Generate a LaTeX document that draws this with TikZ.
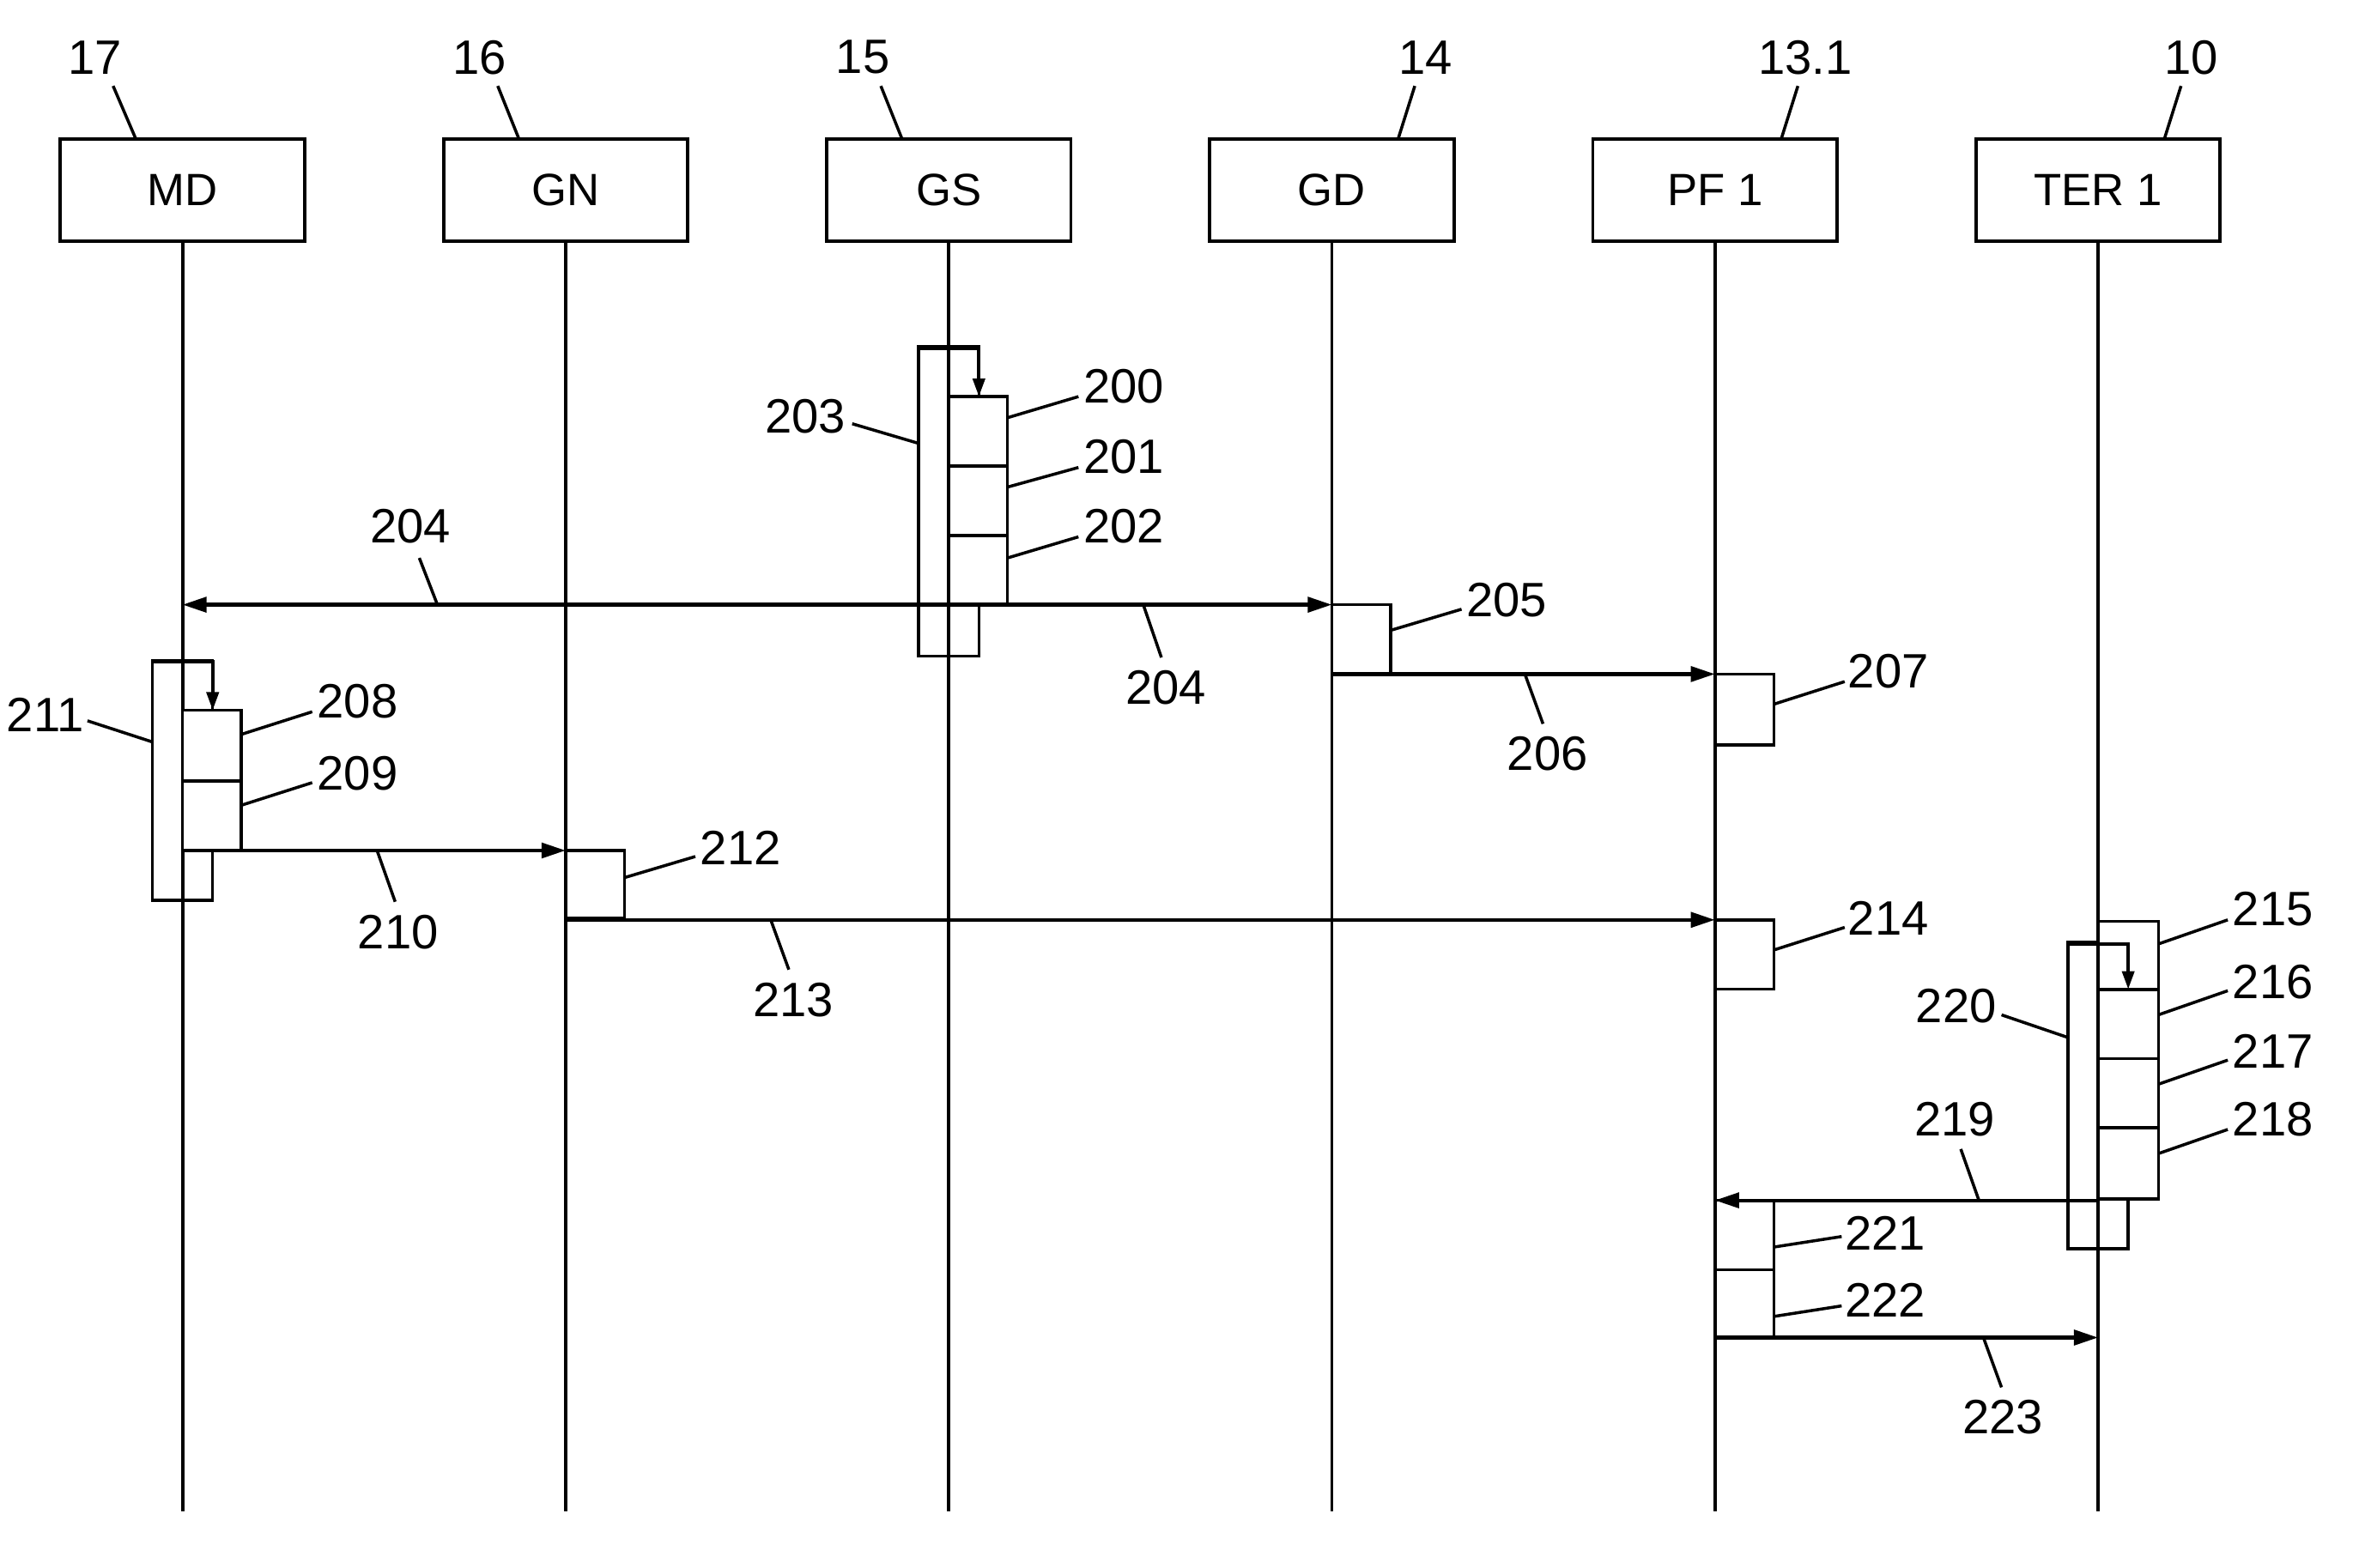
\documentclass[tikz,border=0pt]{standalone}
\usepackage{fontspec}
\setmainfont{Liberation Sans}
\usetikzlibrary{arrows.meta}
\begin{document}
\begin{tikzpicture}[x=1pt,y=-1pt,line width=2.2pt,
 head/.style={draw,minimum width=162pt,minimum height=68pt,inner sep=0pt,font=\fontsize{30}{30}\selectfont},
 lbl/.style={font=\fontsize{32}{32}\selectfont,inner sep=0pt},
 lead/.style={line width=2pt},
 msg/.style={line width=2.4pt,-{Triangle[length=16pt,width=10pt]}},
 box/.style={draw,fill=white,line width=2pt}]
\useasboundingbox (0,0) rectangle (1568,1039.3);
\foreach \n/\x/\t in {md/121/MD,gn/375/GN,gs/629/GS,gd/883/GD,pf/1137/PF 1,ter/1391/TER 1}{
  \node[head] (\n) at (\x,126) {\t};
  \coordinate (\n e) at (\x,1002);
  \draw (\n.south) -- (\n e);
}
% header labels
\node[lbl] (l17) at (63,38) {17}; \draw[lead] (75,57) -- (90,92);
\node[lbl] (l16) at (318,38) {16}; \draw[lead] (330,57) -- (344,92);
\node[lbl] (l15) at (572,38) {15}; \draw[lead] (584,57) -- (598,92);
\node[lbl] (l14) at (945,38) {14}; \draw[lead] (938,57) -- (927,92);
\node[lbl] (l131) at (1197,38) {13.1}; \draw[lead] (1192,57) -- (1181,92);
\node[lbl] (l10) at (1453,38) {10}; \draw[lead] (1446,57) -- (1435,92);
% GS activation
\draw[box] (609,230) rectangle (649,435);
\draw (629,230) -- (629,435);
\draw[box] (629,263) rectangle (668,401);
\draw (629,309) -- (668,309) (629,355) -- (668,355);
\draw (629,160) -- (629,1002);
\draw[-{Triangle[length=12pt,width=8pt]}] (609,231) -- (649,231) -- (649,263);
\node[lbl] (n200) at (745,256) {200}; \draw[lead] (668,277) -- (715,263);
\node[lbl] (n201) at (745,303) {201}; \draw[lead] (668,323) -- (715,310);
\node[lbl] (n202) at (745,349) {202}; \draw[lead] (668,370) -- (715,356);
\node[lbl] (n203) at (534,276) {203}; \draw[lead] (565,281) -- (609,294);
% 204
\draw[line width=2.4pt,{Triangle[length=16pt,width=10pt]}-{Triangle[length=16pt,width=10pt]}] (mde |- 0,401) -- (gde |- 0,401);
\node[lbl] (n204a) at (272,349) {204}; \draw[lead] (278,370) -- (290,401);
\node[lbl] (n204b) at (773,456) {204}; \draw[lead] (770,436) -- (758,401);
% GD 205
\draw[box] (883,401) rectangle (922,447);
\node[lbl] (n205) at (999,398) {205}; \draw[lead] (922,418) -- (969,404);
\draw[msg] (883,447) -- (1137,447);
\node[lbl] (n206) at (1026,500) {206}; \draw[lead] (1023,480) -- (1011,447);
\draw[box] (1137,447) rectangle (1176,494);
\node[lbl] (n207) at (1252,445) {207}; \draw[lead] (1176,467) -- (1223,452);
% MD activation
\draw[box] (101,438) rectangle (141,597);
\draw (121,438) -- (121,597);
\draw[box] (121,471) rectangle (160,564);
\draw (121,518) -- (160,518);
\draw[-{Triangle[length=12pt,width=8pt]}] (101,439) -- (141,439) -- (141,471);
\node[lbl] (n208) at (237,465) {208}; \draw[lead] (160,487) -- (207,472);
\node[lbl] (n209) at (237,513) {209}; \draw[lead] (160,534) -- (207,519);
\node[lbl] (n211) at (30,474) {211}; \draw[lead] (58,478) -- (101,492);
\draw[msg] (121,564) -- (375,564);
\node[lbl] (n210) at (264,618) {210}; \draw[lead] (262,598) -- (250,564);
\draw[box] (375,564) rectangle (414,609);
\node[lbl] (n212) at (491,562) {212}; \draw[lead] (414,582) -- (461,568);
\draw[msg] (375,610) -- (1137,610);
\node[lbl] (n213) at (526,663) {213}; \draw[lead] (523,643) -- (511,610);
\draw[box] (1137,610) rectangle (1176,656);
\node[lbl] (n214) at (1252,609) {214}; \draw[lead] (1176,630) -- (1223,615);
% TER
\draw[box] (1371,625) rectangle (1411,828);
\draw[box] (1391,611) rectangle (1431,795);
\draw (1391,656) -- (1431,656) (1391,702) -- (1431,702) (1391,748) -- (1431,748);
\draw (1391,160) -- (1391,1002);
\draw[-{Triangle[length=12pt,width=8pt]}] (1371,626) -- (1411,626) -- (1411,656);
\node[lbl] (n215) at (1507,603) {215}; \draw[lead] (1431,626) -- (1477,610);
\node[lbl] (n216) at (1507,651) {216}; \draw[lead] (1431,673) -- (1477,657);
\node[lbl] (n217) at (1507,697) {217}; \draw[lead] (1431,719) -- (1477,703);
\node[lbl] (n218) at (1507,742) {218}; \draw[lead] (1431,765) -- (1477,749);
\node[lbl] (n220) at (1297,667) {220}; \draw[lead] (1327,673) -- (1371,688);
\draw[box] (1137,796) rectangle (1176,887);
\draw (1137,842) -- (1176,842);
\draw[msg] (1391,796) -- (1137,796);
\node[lbl] (n219) at (1296,742) {219}; \draw[lead] (1300,762) -- (1312,796);
\node[lbl] (n221) at (1250,818) {221}; \draw[lead] (1176,827) -- (1221,820);
\node[lbl] (n222) at (1250,862) {222}; \draw[lead] (1176,873) -- (1221,866);
\draw[msg] (1137,887) -- (1391,887);
\node[lbl] (n223) at (1328,940) {223}; \draw[lead] (1327,920) -- (1315,887);
\end{tikzpicture}
\end{document}
